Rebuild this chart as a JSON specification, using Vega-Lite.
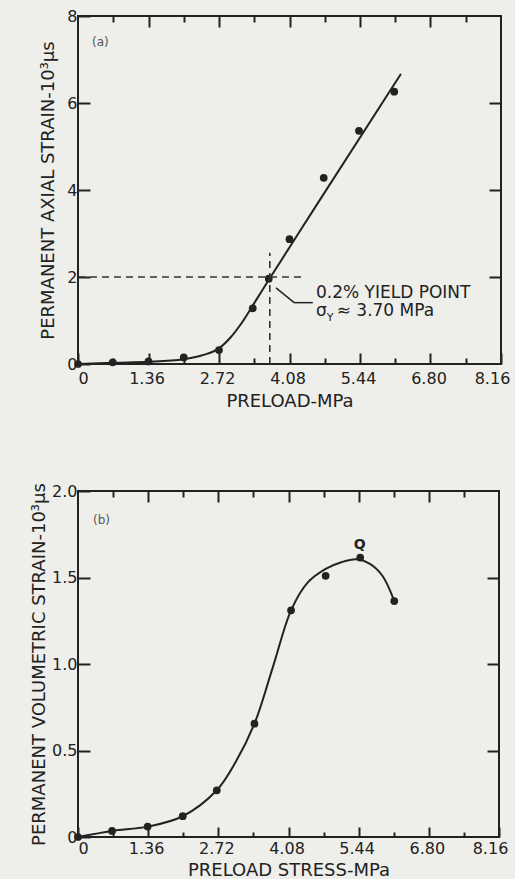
{
  "$schema": "https://vega.github.io/schema/vega-lite/v6.json",
  "background": "#eeeeea",
  "padding": {"left": 29, "top": 7, "right": 5, "bottom": 5},
  "bounds": "flush",
  "spacing": 127,
  "datasets": {
    "ptsA": [
      {"x": 0, "y": 0}, {"x": 0.67, "y": 0.04}, {"x": 1.36, "y": 0.06}, {"x": 2.04, "y": 0.15},
      {"x": 2.72, "y": 0.32}, {"x": 3.37, "y": 1.28}, {"x": 3.68, "y": 1.96}, {"x": 4.08, "y": 2.87},
      {"x": 4.74, "y": 4.28}, {"x": 5.42, "y": 5.36}, {"x": 6.1, "y": 6.26}
    ],
    "curveA": [
      {"x": 0, "y": 0}, {"x": 0.68, "y": 0.03}, {"x": 1.36, "y": 0.05}, {"x": 2.04, "y": 0.11},
      {"x": 2.4, "y": 0.2}, {"x": 2.72, "y": 0.36}, {"x": 2.95, "y": 0.62}, {"x": 3.15, "y": 0.93},
      {"x": 3.4, "y": 1.4}, {"x": 3.7, "y": 1.97}, {"x": 4.53, "y": 3.52}, {"x": 6.23, "y": 6.67}
    ],
    "dashA": [
      {"x": 0, "y": 2, "x2": 4.4, "y2": 2},
      {"x": 3.7, "y": 0, "x2": 3.7, "y2": 2.56}
    ],
    "leaderA": [
      {"x": 3.82, "y": 1.75, "x2": 4.17, "y2": 1.41},
      {"x": 4.17, "y": 1.41, "x2": 4.53, "y2": 1.41}
    ],
    "textA": [
      {"x": 4.59, "y": 1.52, "label": "0.2% YIELD POINT"},
      {"x": 4.59, "y": 1.1, "label": "σ"},
      {"x": 4.99, "y": 1.1, "label": "≈ 3.70 MPa"}
    ],
    "subA": [{"x": 4.8, "y": 0.99, "label": "Y"}],
    "tagA": [{"x": 0.27, "y": 7.31, "label": "(a)"}],
    "ptsB": [
      {"x": 0, "y": 0}, {"x": 0.66, "y": 0.035}, {"x": 1.35, "y": 0.06}, {"x": 2.03, "y": 0.12},
      {"x": 2.69, "y": 0.27}, {"x": 3.42, "y": 0.655}, {"x": 4.13, "y": 1.31}, {"x": 4.8, "y": 1.51},
      {"x": 5.47, "y": 1.615}, {"x": 6.13, "y": 1.364}
    ],
    "curveB": [
      {"x": 0, "y": 0}, {"x": 0.66, "y": 0.035}, {"x": 1.35, "y": 0.06}, {"x": 2.03, "y": 0.12},
      {"x": 2.69, "y": 0.27}, {"x": 3.05, "y": 0.43}, {"x": 3.42, "y": 0.655}, {"x": 3.78, "y": 0.985},
      {"x": 4.13, "y": 1.31}, {"x": 4.45, "y": 1.47}, {"x": 4.8, "y": 1.55}, {"x": 5.12, "y": 1.59},
      {"x": 5.4, "y": 1.605}, {"x": 5.65, "y": 1.58}, {"x": 5.9, "y": 1.51}, {"x": 6.13, "y": 1.364}
    ],
    "tagB": [{"x": 0.29, "y": 1.81, "label": "(b)"}],
    "qB": [{"x": 5.46, "y": 1.665, "label": "Q"}]
  },
  "vconcat": [
    {
      "width": 423,
      "height": 348,
      "resolve": {"axis": {"x": "independent", "y": "independent"}},
      "layer": [
        {
          "data": {"name": "curveA"},
          "mark": {"type": "line", "interpolate": "monotone", "color": "#222", "strokeWidth": 2},
          "encoding": {
            "x": {"field": "x", "type": "quantitative", "scale": {"domain": [0, 8.16], "nice": false},
              "axis": {"orient": "bottom", "values": [0, 0.68, 1.36, 2.04, 2.72, 3.4, 4.08, 4.76, 5.44, 6.12, 6.8, 7.48, 8.16],
                "labelExpr": "abs(datum.value/1.36 - round(datum.value/1.36)) < 0.01 ? (datum.value == 0 ? '0' : format(datum.value, '.2f')) : ''",
                "tickSize": {"condition": {"test": "abs(datum.value/1.36 - round(datum.value/1.36)) < 0.01", "value": -11}, "value": -6},
                "labelOffset": {"condition": [{"test": "datum.value == 0", "value": 5}, {"test": "datum.value > 8", "value": -9}], "value": -2},
                "labelFlush": false, "labelOverlap": false, "labelPadding": 17,
                "title": "PRELOAD-MPa", "titlePadding": 1}},
            "y": {"field": "y", "type": "quantitative", "scale": {"domain": [0, 8], "nice": false},
              "axis": {"orient": "left", "values": [0, 2, 4, 6, 8], "tickSize": -12, "labelPadding": 13,
                "labelFlush": false, "title": "PERMANENT AXIAL STRAIN-10³μs", "titlePadding": 9}}
          }
        },
        {
          "data": {"name": "ptsA"},
          "mark": {"type": "circle", "size": 60, "color": "#222", "opacity": 1},
          "encoding": {
            "x": {"field": "x", "type": "quantitative", "scale": {"domain": [0, 8.16], "nice": false},
              "axis": {"orient": "top", "values": [0.68, 1.36, 2.04, 2.72, 3.4, 4.08, 4.76, 5.44, 6.12, 6.8, 7.48],
                "labels": false, "title": null,
                "tickSize": {"condition": {"test": "abs(datum.value/1.36 - round(datum.value/1.36)) < 0.01", "value": -11}, "value": -6}}},
            "y": {"field": "y", "type": "quantitative", "scale": {"domain": [0, 8], "nice": false},
              "axis": {"orient": "right", "values": [2, 4, 6], "labels": false, "title": null, "tickSize": -12}}
          }
        },
        {
          "data": {"name": "dashA"},
          "mark": {"type": "rule", "color": "#333", "strokeWidth": 1.6, "strokeDash": [7, 5]},
          "encoding": {
            "x": {"field": "x", "type": "quantitative", "scale": {"domain": [0, 8.16], "nice": false}, "axis": null},
            "y": {"field": "y", "type": "quantitative", "scale": {"domain": [0, 8], "nice": false}, "axis": null},
            "x2": {"field": "x2"},
            "y2": {"field": "y2"}
          }
        },
        {
          "data": {"name": "leaderA"},
          "mark": {"type": "rule", "color": "#222", "strokeWidth": 1.5},
          "encoding": {
            "x": {"field": "x", "type": "quantitative", "scale": {"domain": [0, 8.16], "nice": false}, "axis": null},
            "y": {"field": "y", "type": "quantitative", "scale": {"domain": [0, 8], "nice": false}, "axis": null},
            "x2": {"field": "x2"},
            "y2": {"field": "y2"}
          }
        },
        {
          "data": {"name": "textA"},
          "mark": {"type": "text", "align": "left", "baseline": "alphabetic", "fontSize": 17, "font": "DejaVu Sans", "color": "#222"},
          "encoding": {
            "x": {"field": "x", "type": "quantitative", "scale": {"domain": [0, 8.16], "nice": false}, "axis": null},
            "y": {"field": "y", "type": "quantitative", "scale": {"domain": [0, 8], "nice": false}, "axis": null},
            "text": {"field": "label"}
          }
        },
        {
          "data": {"name": "subA"},
          "mark": {"type": "text", "align": "left", "baseline": "alphabetic", "fontSize": 11, "font": "DejaVu Sans", "color": "#222"},
          "encoding": {
            "x": {"field": "x", "type": "quantitative", "scale": {"domain": [0, 8.16], "nice": false}, "axis": null},
            "y": {"field": "y", "type": "quantitative", "scale": {"domain": [0, 8], "nice": false}, "axis": null},
            "text": {"field": "label"}
          }
        },
        {
          "data": {"name": "tagA"},
          "mark": {"type": "text", "align": "left", "baseline": "alphabetic", "fontSize": 12, "font": "DejaVu Sans", "color": "#555"},
          "encoding": {
            "x": {"field": "x", "type": "quantitative", "scale": {"domain": [0, 8.16], "nice": false}, "axis": null},
            "y": {"field": "y", "type": "quantitative", "scale": {"domain": [0, 8], "nice": false}, "axis": null},
            "text": {"field": "label"}
          }
        }
      ]
    },
    {
      "width": 421,
      "height": 346,
      "resolve": {"axis": {"x": "independent", "y": "independent"}},
      "layer": [
        {
          "data": {"name": "curveB"},
          "mark": {"type": "line", "interpolate": "catmull-rom", "color": "#222", "strokeWidth": 2},
          "encoding": {
            "x": {"field": "x", "type": "quantitative", "scale": {"domain": [0, 8.16], "nice": false},
              "axis": {"orient": "bottom", "values": [0, 0.68, 1.36, 2.04, 2.72, 3.4, 4.08, 4.76, 5.44, 6.12, 6.8, 7.48, 8.16],
                "labelExpr": "abs(datum.value/1.36 - round(datum.value/1.36)) < 0.01 ? (datum.value == 0 ? '0' : format(datum.value, '.2f')) : ''",
                "tickSize": {"condition": {"test": "abs(datum.value/1.36 - round(datum.value/1.36)) < 0.01", "value": -10}, "value": -5},
                "labelOffset": {"condition": [{"test": "datum.value == 0", "value": 5}, {"test": "datum.value > 8", "value": -9}], "value": -2},
                "labelFlush": false, "labelOverlap": false, "labelPadding": 13,
                "title": "PRELOAD STRESS-MPa", "titlePadding": 0}},
            "y": {"field": "y", "type": "quantitative", "scale": {"domain": [0, 2], "nice": false},
              "axis": {"orient": "left", "values": [0, 0.5, 1, 1.5, 2], "tickSize": -12, "labelPadding": 13,
                "labelFlush": false,
                "labelExpr": "datum.value == 0 ? '0' : format(datum.value, '.1f')",
                "title": "PERMANENT VOLUMETRIC STRAIN-10³μs", "titlePadding": 3}}
          }
        },
        {
          "data": {"name": "ptsB"},
          "mark": {"type": "circle", "size": 60, "color": "#222", "opacity": 1},
          "encoding": {
            "x": {"field": "x", "type": "quantitative", "scale": {"domain": [0, 8.16], "nice": false},
              "axis": {"orient": "top", "values": [0.68, 1.36, 2.04, 2.72, 3.4, 4.08, 4.76, 5.44, 6.12, 6.8, 7.48],
                "labels": false, "title": null,
                "tickSize": {"condition": {"test": "abs(datum.value/1.36 - round(datum.value/1.36)) < 0.01", "value": -11}, "value": -6}}},
            "y": {"field": "y", "type": "quantitative", "scale": {"domain": [0, 2], "nice": false},
              "axis": {"orient": "right", "values": [0.5, 1, 1.5], "labels": false, "title": null, "tickSize": -12}}
          }
        },
        {
          "data": {"name": "tagB"},
          "mark": {"type": "text", "align": "left", "baseline": "alphabetic", "fontSize": 12, "font": "DejaVu Sans", "color": "#555"},
          "encoding": {
            "x": {"field": "x", "type": "quantitative", "scale": {"domain": [0, 8.16], "nice": false}, "axis": null},
            "y": {"field": "y", "type": "quantitative", "scale": {"domain": [0, 2], "nice": false}, "axis": null},
            "text": {"field": "label"}
          }
        },
        {
          "data": {"name": "qB"},
          "mark": {"type": "text", "align": "center", "baseline": "alphabetic", "fontSize": 14, "fontWeight": "bold", "font": "DejaVu Sans", "color": "#222"},
          "encoding": {
            "x": {"field": "x", "type": "quantitative", "scale": {"domain": [0, 8.16], "nice": false}, "axis": null},
            "y": {"field": "y", "type": "quantitative", "scale": {"domain": [0, 2], "nice": false}, "axis": null},
            "text": {"field": "label"}
          }
        }
      ]
    }
  ],
  "config": {
    "view": {"stroke": "#222", "strokeWidth": 2},
    "font": "DejaVu Sans",
    "axis": {
      "domain": false, "grid": false,
      "labelFont": "DejaVu Sans", "labelFontSize": 16, "labelColor": "#222",
      "titleFont": "DejaVu Sans", "titleFontSize": 18, "titleFontWeight": "normal", "titleColor": "#222",
      "tickColor": "#222", "tickWidth": 2
    }
  }
}
